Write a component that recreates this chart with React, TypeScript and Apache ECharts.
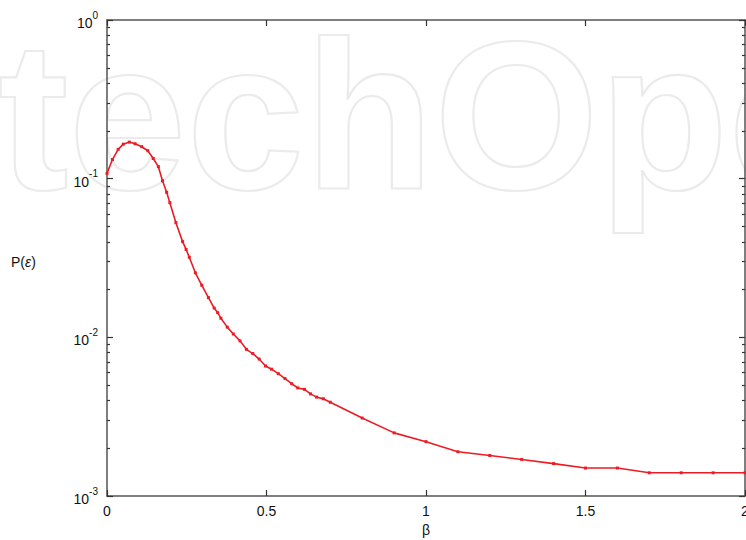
import React, { useEffect, useRef } from 'react';
import * as echarts from 'echarts';

const betaValues = [
  0, 0.017, 0.035, 0.051, 0.07, 0.088, 0.109, 0.128, 0.145, 0.161, 0.174, 0.187, 0.197,
  0.216, 0.237, 0.248, 0.258, 0.277, 0.297, 0.318, 0.336, 0.347, 0.357, 0.377, 0.396,
  0.417, 0.437, 0.457, 0.477, 0.497, 0.516, 0.537, 0.558, 0.579, 0.598, 0.619, 0.638,
  0.657, 0.678, 0.7, 0.8, 0.9, 1.0, 1.1, 1.2, 1.3, 1.4, 1.5, 1.6, 1.7, 1.8, 1.9, 2.0,
];
const probValues = [
  0.108, 0.132, 0.153, 0.165, 0.17, 0.166, 0.159, 0.15, 0.134, 0.119, 0.097, 0.082, 0.0706,
  0.0528, 0.0401, 0.0358, 0.032, 0.0255, 0.0213, 0.0178, 0.0153, 0.0143, 0.0132, 0.0116, 0.0105,
  0.0095, 0.0084, 0.0079, 0.0073, 0.0066, 0.0063, 0.0059, 0.0055, 0.0051, 0.0048, 0.0047, 0.0044,
  0.0042, 0.0041, 0.0039, 0.0031, 0.0025, 0.0022, 0.0019, 0.0018, 0.0017, 0.0016, 0.0015, 0.0015,
  0.0014, 0.0014, 0.0014, 0.0014,
];
const majorTicks = [0.001, 0.01, 0.1, 1];
const minorTicks = [
  0.002, 0.003, 0.004, 0.005, 0.006, 0.007, 0.008, 0.009,
  0.02, 0.03, 0.04, 0.05, 0.06, 0.07, 0.08, 0.09,
  0.2, 0.3, 0.4, 0.5, 0.6, 0.7, 0.8, 0.9,
];

const FONT = '"Liberation Sans", Arial, Helvetica, sans-serif';
const AXIS_COLOR = '#555555';

export default function App() {
  const ref = useRef<HTMLDivElement>(null);
  useEffect(() => {
    if (!ref.current) return;
    const chart = echarts.init(ref.current, null, { renderer: 'svg' });
    const logAxisBase = {
      type: 'log' as const,
      logBase: 10,
      min: 0.001,
      max: 1,
      splitLine: { show: false },
      minorTick: { show: false },
    };
    const majorTick = {
      show: true,
      inside: true,
      length: 6,
      customValues: majorTicks,
      lineStyle: { color: '#333', width: 1.2 },
    };
    const minorTick = {
      show: true,
      inside: true,
      length: 3,
      customValues: minorTicks,
      lineStyle: { color: '#333', width: 1.2 },
    };
    chart.setOption({
      animation: false,
      backgroundColor: '#ffffff',
      grid: { left: 107, right: 1, top: 20, bottom: 44, containLabel: false, outerBoundsMode: 'none' },
      graphic: [
        {
          type: 'text',
          x: -2,
          y: 115,
          z: -10,
          silent: true,
          style: {
            text: 'techOpen',
            font: `bold 212px ${FONT}`,
            fill: 'rgba(255,255,255,0)',
            stroke: '#ebebeb',
            lineWidth: 2.2,
            verticalAlign: 'middle',
            align: 'left',
          },
        },
        {
          type: 'text',
          x: 11,
          y: 262,
          style: {
            text: '{n|P(}{e|ε}{n|)}',
            rich: {
              n: { fontSize: 14, fontFamily: FONT, fill: '#111' },
              e: { fontSize: 14, fontFamily: FONT, fontStyle: 'italic', fill: '#111' },
            },
            verticalAlign: 'middle',
          },
        },
      ],
      xAxis: [
        {
          type: 'value',
          min: 0,
          max: 2,
          interval: 0.5,
          position: 'bottom',
          name: 'β',
          nameLocation: 'middle',
          nameGap: 26,
          nameTextStyle: { fontSize: 14, fontFamily: FONT, color: '#111' },
          axisLine: { show: true, lineStyle: { color: AXIS_COLOR, width: 1.5 } },
          axisTick: { show: true, inside: true, length: 6, lineStyle: { color: '#333', width: 1.2 } },
          axisLabel: {
            fontSize: 14,
            fontFamily: FONT,
            color: '#111',
            margin: 8,
            formatter: (v: number) => String(v),
          },
          splitLine: { show: false },
        },
        {
          type: 'value',
          min: 0,
          max: 2,
          interval: 0.5,
          position: 'top',
          axisLine: { show: true, lineStyle: { color: AXIS_COLOR, width: 1.5 } },
          axisTick: { show: true, inside: true, length: 6, lineStyle: { color: '#333', width: 1.2 } },
          axisLabel: { show: false },
          splitLine: { show: false },
        },
      ],
      yAxis: [
        {
          ...logAxisBase,
          position: 'left',
          axisLine: { show: true, lineStyle: { color: AXIS_COLOR, width: 1.5 } },
          axisTick: majorTick,
          axisLabel: {
            customValues: majorTicks,
            margin: 9,
            formatter: (v: number) => `{b|10}{s|${Math.round(Math.log10(v))}}`,
            rich: {
              b: { fontSize: 14, fontFamily: FONT, color: '#111', lineHeight: 20, verticalAlign: 'bottom' },
              s: { fontSize: 10, fontFamily: FONT, color: '#111', lineHeight: 12, verticalAlign: 'top' },
            },
          },
        },
        {
          ...logAxisBase,
          position: 'left',
          axisLine: { show: false },
          axisTick: minorTick,
          axisLabel: { show: false },
        },
        {
          ...logAxisBase,
          position: 'right',
          axisLine: { show: true, lineStyle: { color: AXIS_COLOR, width: 1.5 } },
          axisTick: majorTick,
          axisLabel: { show: false },
        },
        {
          ...logAxisBase,
          position: 'right',
          axisLine: { show: false },
          axisTick: minorTick,
          axisLabel: { show: false },
        },
      ],
      series: [
        {
          type: 'line',
          xAxisIndex: 0,
          yAxisIndex: 0,
          data: betaValues.map((b, i) => [b, probValues[i]]),
          symbol: 'rect',
          symbolSize: 3,
          showSymbol: true,
          lineStyle: { color: '#ec1c24', width: 1.6 },
          itemStyle: { color: '#ec1c24' },
          z: 5,
        },
      ],
    });
    return () => chart.dispose();
  }, []);
  return <div ref={ref} style={{ width: 746, height: 540, position: 'absolute', left: 0, top: 0 }} />;
}
